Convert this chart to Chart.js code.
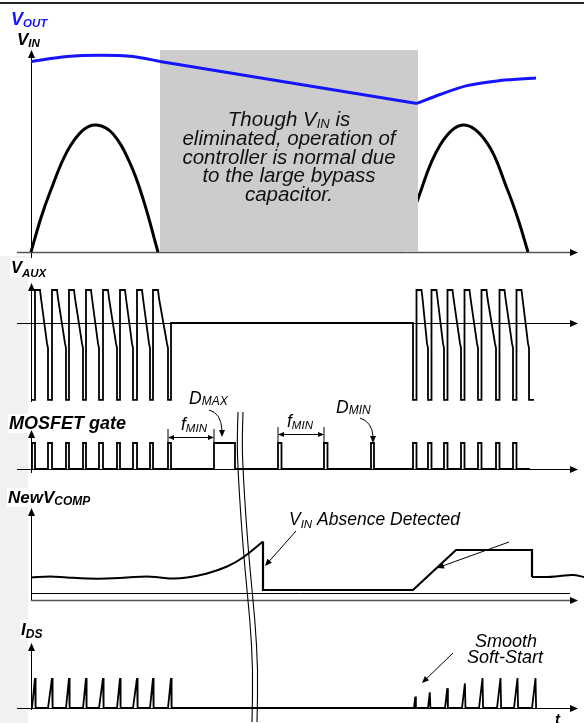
<!DOCTYPE html>
<html>
<head>
<meta charset="utf-8">
<script src="https://cdn.jsdelivr.net/npm/chart.js@4/dist/chart.umd.min.js"></script>
<style>
  html, body { margin: 0; padding: 0; background: #fff; }
  #wrap { width: 584px; height: 723px; position: relative; }
</style>
</head>
<body>
<div id="wrap"><canvas id="c"></canvas></div>
<script>
// ---- time base: t = 0 at the vertical axes --------------------------------

// VIN (rectified line) and VOUT, normalised to the VIN peak
const vinHump1T = [0, 10, 19, 36, 52, 66, 82, 99, 112, 127];
const vinHump1V = [0, 0.27, 0.47, 0.79, 0.96, 1.00, 0.93, 0.70, 0.42, 0];
const vinHump2T = [369, 387, 409, 432, 456, 476, 487, 497];
const vinHump2V = [0, 0.42, 0.84, 1.00, 0.86, 0.50, 0.26, 0];
const voutHoldT = [0, 36, 69, 102, 129];
const voutHoldV = [1.50, 1.54, 1.55, 1.54, 1.50];
const voutDecayT = [129, 386];
const voutDecayV = [1.50, 1.17];
const voutRechargeT = [386, 409, 436, 469, 505];
const voutRechargeV = [1.17, 1.24, 1.31, 1.35, 1.37];
const vinAbsentT = [129, 387];          // interval with no line voltage
const vinAbsentTop = 1.59;

// VAUX: negative clamp while the switch is on, ringing after turn-off
const auxLowStart1 = [0, 17, 35, 52, 68, 86, 102, 119, 137];
const auxLowEnd1   = [4, 21, 38, 55, 72, 89, 106, 122, 140];
const auxLowStart2 = [382, 397, 413, 430, 447, 465, 482, 498];
const auxLowEnd2   = [385.5, 400.5, 416.5, 433.5, 450.5, 468.5, 485.5, 503];
const auxHigh = 1.0, auxKnee = -0.76, auxClamp = -2.33;

// MOSFET gate pulses
const gateOn  = [1, 17, 35, 52, 68, 86, 102, 119, 137, 183, 247, 293, 340, 382, 397, 413, 430, 447, 465, 482];
const gateOff = [4, 21, 38, 55, 72, 89, 106, 122, 140, 204, 250.5, 296.5, 343, 385.5, 400.5, 416.5, 433.5, 450.5, 468.5, 485.5];
const gateEndT = 499;

// New VCOMP
const compIdleT = [0, 19, 36, 56, 76, 96, 116, 129, 142, 156, 176, 196, 212, 232];
const compIdleV = [0.47, 0.49, 0.47, 0.45, 0.45, 0.47, 0.49, 0.47, 0.45, 0.47, 0.55, 0.69, 0.87, 1.19];
const compLatchT = [232, 232, 382, 425, 501, 501];
const compLatchV = [1.19, 0.22, 0.22, 1.02, 1.02, 0.48];
const compResumeT = [501, 516, 529, 542, 553];
const compResumeV = [0.48, 0.48, 0.50, 0.52, 0.48];

// IDS current ramps (soft-start on restart)
const idsStart = [1, 17, 35, 52, 68, 86, 102, 119, 137, 383, 397, 414, 431, 448, 466, 483, 501];
const idsEnd   = [4, 21, 38, 55, 72, 89, 106, 122, 140, 384.3, 398.8, 416.3, 433.9, 451.5, 469.5, 486.5, 504.5];
const idsPeak  = [1, 1, 1, 1, 1, 1, 1, 1, 1, 0.38, 0.52, 0.66, 0.82, 1, 1, 1, 1];
const idsTraceEndT = 505;

// ---- trace builders --------------------------------------------------------
const pts = (ts, vs) => ts.map((t, i) => ({ x: t, y: vs[i] }));

function auxBurst(out, lows, lowEnds, fromIdle) {
  lows.forEach((s, i) => {
    if (i === 0) {
      if (fromIdle) { out.push({ x: s, y: 0 }); }
      out.push({ x: s, y: auxClamp });
    } else {
      out.push({ x: s - 1, y: -0.62 }, { x: s, y: auxKnee }, { x: s, y: auxClamp });
    }
    const e = lowEnds[i];
    out.push({ x: e, y: auxClamp });
    if (i < lows.length - 1) {
      out.push({ x: e, y: auxHigh }, { x: e + 5, y: auxHigh }, { x: e + 6, y: 0.75 });
    }
  });
}
const auxTrace = [];
auxBurst(auxTrace, auxLowStart1, auxLowEnd1, false);
auxTrace.push({ x: auxLowEnd1[auxLowEnd1.length - 1], y: 0 });
auxBurst(auxTrace, auxLowStart2, auxLowEnd2, true);

const gateTrace = [{ x: 0, y: 0 }];
gateOn.forEach((s, i) => {
  gateTrace.push({ x: s, y: 0 }, { x: s, y: 1 }, { x: gateOff[i], y: 1 }, { x: gateOff[i], y: 0 });
});
gateTrace.push({ x: gateEndT, y: 0 });

const idsTrace = [{ x: 0, y: 0 }];
idsStart.forEach((s, i) => {
  idsTrace.push({ x: s, y: 0 }, { x: idsEnd[i], y: idsPeak[i] }, { x: idsEnd[i] + 0.6, y: 0 });
});
idsTrace.push({ x: idsTraceEndT, y: 0 });

// ---- panel placement (baseline pixel, pixels per unit) --------------------
const CANVAS_H = 723;
const panels = {
  yVin:  { base: 252, unit: 127 },
  yAux:  { base: 323, unit: 33 },
  yGate: { base: 469, unit: 26 },
  yComp: { base: 601, unit: 50 },
  yIds:  { base: 708, unit: 30 }
};
function panelScale(p) {
  return { type: 'linear', display: false, min: -(CANVAS_H - p.base) / p.unit, max: p.base / p.unit };
}

const BLUE = '#1414ff';
const line = (data, yAxisID, extra) => Object.assign({
  data, yAxisID, xAxisID: 'x', borderColor: '#000', borderWidth: 2, pointRadius: 0,
  fill: false, tension: 0, order: 1, borderJoinStyle: 'miter', borderCapStyle: 'butt'
}, extra || {});

const datasets = [
  line(pts(voutHoldT, voutHoldV), 'yVin', { borderColor: BLUE, borderWidth: 3, order: 0, cubicInterpolationMode: 'monotone', overBox: true }),
  line(pts(voutDecayT, voutDecayV), 'yVin', { borderColor: BLUE, borderWidth: 3, order: 0, overBox: true }),
  line(pts(voutRechargeT, voutRechargeV), 'yVin', { borderColor: BLUE, borderWidth: 3, order: 0, cubicInterpolationMode: 'monotone', overBox: true }),
  line(auxTrace, 'yAux', { borderWidth: 1.8 }),
  line(gateTrace, 'yGate', { borderWidth: 1.8 }),
  line(pts(compIdleT, compIdleV), 'yComp', { tension: 0.4 }),
  line(pts(compLatchT, compLatchV), 'yComp', { borderWidth: 2.2 }),
  line(pts(compResumeT, compResumeV), 'yComp', { tension: 0.4 }),
  line(idsTrace, 'yIds', { borderWidth: 1.8 }),
  line(pts(vinHump1T, vinHump1V), 'yVin', { borderWidth: 3, order: 2, tension: 0.4, borderJoinStyle: 'round' }),
  line(pts(vinHump2T, vinHump2V), 'yVin', { borderWidth: 3, order: 2, tension: 0.4, borderJoinStyle: 'round' })
];

// ---- drawing helpers ---------------------------------------------------------
const FAM = '"Liberation Sans", Arial, sans-serif';
const f = (style, px) => `${style} ${px}px ${FAM}`;

function measure(ctx, parts) {
  let w = 0;
  parts.forEach(p => { ctx.font = p[1]; w += ctx.measureText(p[0]).width; });
  return w;
}
function rich(ctx, x, y, parts, align) {
  const w = measure(ctx, parts);
  let cx = align === 'center' ? x - w / 2 : x;
  parts.forEach(p => {
    ctx.font = p[1];
    ctx.fillText(p[0], cx, y + (p[2] || 0));
    cx += ctx.measureText(p[0]).width;
  });
}
function head(ctx, tx, ty, ang, len, half) {
  ctx.save();
  ctx.translate(tx, ty);
  ctx.rotate(ang);
  ctx.beginPath();
  ctx.moveTo(0, 0);
  ctx.lineTo(-len, -half);
  ctx.lineTo(-len, half);
  ctx.closePath();
  ctx.fill();
  ctx.restore();
}
function seg(ctx, x1, y1, x2, y2, w, c) {
  ctx.save();
  ctx.strokeStyle = c || '#000';
  ctx.lineWidth = w || 1;
  ctx.beginPath(); ctx.moveTo(x1, y1); ctx.lineTo(x2, y2); ctx.stroke();
  ctx.restore();
}
function arrowLine(ctx, x1, y1, x2, y2) {
  const a = Math.atan2(y2 - y1, x2 - x1);
  seg(ctx, x1, y1, x2 - 5 * Math.cos(a), y2 - 5 * Math.sin(a), 1);
  head(ctx, x2, y2, a, 7, 3);
}
function smoothPath(ctx, p) {
  ctx.beginPath();
  ctx.moveTo(p[0][0], p[0][1]);
  for (let i = 1; i < p.length - 1; i++) {
    const mx = (p[i][0] + p[i + 1][0]) / 2, my = (p[i][1] + p[i + 1][1]) / 2;
    ctx.quadraticCurveTo(p[i][0], p[i][1], mx, my);
  }
  const l = p[p.length - 1];
  ctx.lineTo(l[0], l[1]);
  ctx.stroke();
}

// axis geometry
const axisX = 31;
const vAxes = [[258, 50], [402, 283], [473, 430], [601, 508], [710, 643]];
const hAxes = [[252.5, 17, '#555', 1.5], [323.5, 17, '#000', 1], [469.5, 17, '#000', 1], [600.5, 31, '#555', 1.5], [708.5, 17, '#000', 1]];
const hTip = 578;
const breakLeft = [[238, 412], [237, 440], [238, 470], [241, 520], [245, 570], [250, 620], [253, 670], [252, 722]];

// signal names: [x, baseline, parts]
const B = px => f('bold italic', px);
const nameLabels = [
  [17, 45, [['V', B(17)], ['IN', B(11.5), 2]]],
  [11, 273, [['V', B(16.5)], ['AUX', B(11.5), 4]]],
  [9, 429, [['MOSFET gate', B(18)]]],
  [8, 503, [['NewV', B(17)], ['COMP', B(12), 2]]],
  [21, 635, [['I', B(17)], ['DS', B(12), 3]]]
];

const deco = {
  id: 'deco',
  beforeDraw(chart) {
    const ctx = chart.ctx;
    ctx.save();
    ctx.fillStyle = '#fff';
    ctx.fillRect(0, 0, chart.width, chart.height);
    // faint page shading down the left margin
    ctx.fillStyle = '#f1f1f1';
    ctx.fillRect(0, 256, 28, chart.height - 256);
    ctx.restore();
  },
  beforeDatasetsDraw(chart) {
    const ctx = chart.ctx;
    this.boxDone = false;
    ctx.save();
    // white patches behind the signal names
    ctx.fillStyle = '#fff';
    nameLabels.forEach(([x, y, parts]) => {
      const w = measure(ctx, parts);
      ctx.fillRect(x - 1, y - 15, w + 4, 19);
    });
    ctx.fillStyle = '#000';
    vAxes.forEach(([b, tip]) => {
      seg(ctx, axisX + 0.5, b, axisX + 0.5, tip + 6, 1);
      head(ctx, axisX + 0.5, tip, -Math.PI / 2, 8, 3.5);
    });
    hAxes.forEach(([y, x0, c, w]) => {
      seg(ctx, x0, y, hTip - 6, y, w, c);
      head(ctx, hTip, y, 0, 8, 3.5);
    });
    seg(ctx, 31, 593.5, 570, 593.5, 1, '#000');
    ctx.restore();
  },
  beforeDatasetDraw(chart, args) {
    const ds = chart.data.datasets[args.index];
    if (!ds.overBox || this.boxDone) return;
    this.boxDone = true;
    const ctx = chart.ctx, x = chart.scales.x, y = chart.scales.yVin;
    const x0 = x.getPixelForValue(vinAbsentT[0]), x1 = x.getPixelForValue(vinAbsentT[1]);
    const y0 = y.getPixelForValue(vinAbsentTop), y1 = y.getPixelForValue(0);
    ctx.save();
    ctx.fillStyle = '#cccccc';
    ctx.fillRect(x0, y0, x1 - x0, y1 - y0);
    ctx.fillStyle = '#111';
    const I = f('italic', 20.5), S = f('italic', 13);
    const cx = (x0 + x1) / 2;
    rich(ctx, cx, 126, [['Though V', I], ['IN', S, 2], [' is', I]], 'center');
    rich(ctx, cx, 145, [['eliminated, operation of', I]], 'center');
    rich(ctx, cx, 163.5, [['controller is normal due', I]], 'center');
    rich(ctx, cx, 182, [['to the large bypass', I]], 'center');
    rich(ctx, cx, 201, [['capacitor.', I]], 'center');
    ctx.restore();
  },
  afterDatasetsDraw(chart) {
    const ctx = chart.ctx;
    ctx.save();
    // frame rule
    ctx.fillStyle = '#222';
    ctx.fillRect(0, 2, chart.width, 2);

    // signal names
    ctx.fillStyle = BLUE;
    rich(ctx, 11, 25, [['V', B(18)], ['OUT', B(11.5), 2]]);
    ctx.fillStyle = '#000';
    nameLabels.forEach(([x, y, parts]) => rich(ctx, x, y, parts));
    rich(ctx, 555, 724, [['t', B(15)]]);

    // timing annotations
    const I = f('italic', 17.5), S = f('italic', 11.5);
    const X = v => chart.scales.x.getPixelForValue(v);
    const dbl = (xa, xb, y, top) => {
      seg(ctx, xa + 4, y, xb - 4, y, 1);
      head(ctx, xa, y, Math.PI, 6, 2.5);
      head(ctx, xb, y, 0, 6, 2.5);
      seg(ctx, xa, top, xa, 443, 1);
      seg(ctx, xb, top, xb, 443, 1);
    };
    dbl(X(gateOn[8]), X(gateOn[9]), 437.5, 429);
    dbl(X(gateOn[10]), X(gateOn[11]), 434.5, 427);
    rich(ctx, 181, 430, [['f', I], ['MIN', S, 2]]);
    rich(ctx, 287, 427, [['f', I], ['MIN', S, 2]]);
    rich(ctx, 189, 404, [['D', I], ['MAX', f('italic', 12), 1]]);
    rich(ctx, 336, 413, [['D', I], ['MIN', f('italic', 12), 1]]);

    ctx.lineWidth = 1;
    ctx.beginPath(); ctx.moveTo(209, 410); ctx.quadraticCurveTo(221, 413, 222, 430); ctx.stroke();
    head(ctx, 222, 437, Math.PI / 2, 7, 3);
    ctx.beginPath(); ctx.moveTo(360, 418); ctx.quadraticCurveTo(372, 422, 373, 436); ctx.stroke();
    head(ctx, 373, 443, Math.PI / 2, 7, 3);

    rich(ctx, 289, 525, [['V', I], ['IN', S, 3], [' Absence Detected', I]]);
    arrowLine(ctx, 296, 531, 265, 566);
    arrowLine(ctx, 509, 542, 437, 568);
    const I18 = f('italic', 18);
    rich(ctx, 506, 647, [['Smooth', I18]], 'center');
    rich(ctx, 505, 663, [['Soft-Start', I18]], 'center');
    arrowLine(ctx, 453, 653, 422, 683);

    // time-break symbol
    ctx.strokeStyle = '#000';
    ctx.lineWidth = 1.1;
    smoothPath(ctx, breakLeft);
    smoothPath(ctx, breakLeft.map(([x, y]) => [x + 5, y]));
    ctx.restore();
  }
};

new Chart(document.getElementById('c'), {
  type: 'line',
  data: { datasets },
  options: {
    responsive: true,
    maintainAspectRatio: false,
    devicePixelRatio: 1,
    animation: false,
    events: [],
    layout: { padding: 0 },
    plugins: { legend: { display: false }, tooltip: { enabled: false } },
    scales: {
      x: { type: 'linear', display: false, min: -31, max: 553 },
      yVin: panelScale(panels.yVin),
      yAux: panelScale(panels.yAux),
      yGate: panelScale(panels.yGate),
      yComp: panelScale(panels.yComp),
      yIds: panelScale(panels.yIds)
    }
  },
  plugins: [deco]
});
</script>
</body>
</html>
